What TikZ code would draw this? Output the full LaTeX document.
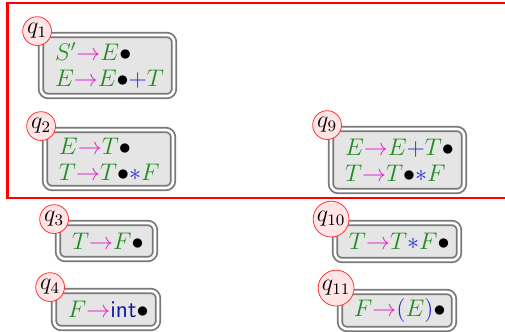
\documentclass[tikz,border=0pt]{standalone}
\usepackage{xcolor}
\definecolor{ntgreen}{RGB}{36,140,36}
\definecolor{arrmag}{RGB}{228,40,200}
\definecolor{tokblue}{RGB}{40,40,215}
\definecolor{intblue}{RGB}{20,20,160}
% grammar symbols
\newcommand{\gs}[1]{\textcolor{ntgreen}{#1}}
\newcommand{\arr}{\textcolor{arrmag}{\rightarrow}}
\newcommand{\tk}[1]{\textcolor{tokblue}{#1}}
\newcommand{\dt}{{\bullet}}
\begin{document}
\begin{tikzpicture}[x=0.5pt,y=-0.5pt,
  itembox/.style={draw=gray!95!black, line width=0.9pt, double=white,
    double distance=1.3pt, fill=gray!20, rounded corners=3.5pt,
    inner xsep=7pt, inner ysep=2pt, align=left,
    font=\fontsize{12pt}{13pt}\selectfont},
  qlabel/.style={circle, draw=red!80, line width=0.4pt, fill=red!10,
    inner sep=0.7pt, text=black, font=\fontsize{12pt}{13pt}\selectfont},
  region/.style={draw=red, line width=1pt}]
\useasboundingbox (0,0) rectangle (505,332);
\clip (0,0) rectangle (505,332);

% item sets
\node[itembox, text width=52.5pt, minimum height=30.5pt] (s1) at (107.5,65.5)
  {$\gs{S'}\arr\gs{E}\dt$\\ $\gs{E}\arr\gs{E}\dt\tk{+}\gs{T}$};
\node[itembox, text width=50pt, minimum height=29pt] (s2) at (109,159)
  {$\gs{E}\arr\gs{T}\dt$\\ $\gs{T}\arr\gs{T}\dt\tk{*}\gs{F}$};
\node[itembox, text width=52.5pt, minimum height=31pt] (s9) at (397.5,160)
  {$\gs{E}\arr\gs{E}\tk{+}\gs{T}\dt$\\ $\gs{T}\arr\gs{T}\dt\tk{*}\gs{F}$};
\node[itembox, text width=34.5pt, minimum height=18pt] (s3) at (106.5,241)
  {$\gs{T}\arr\gs{F}\dt$};
\node[itembox, text width=38pt, minimum height=18.5pt] (s4) at (106,309.5)
  {$\gs{F}\arr\textcolor{intblue}{\textsf{int}}\dt$};
\node[itembox, text width=48pt, minimum height=18.5pt] (s10) at (397,241.5)
  {$\gs{T}\arr\gs{T}\tk{*}\gs{F}\dt$};
\node[itembox, text width=43pt, minimum height=18.5pt] (s11) at (397,310.5)
  {$\gs{F}\arr\tk{(}\gs{E}\tk{)}\dt$};

% state labels
\node[qlabel] (q1) at ([shift={(-3,-3)}]s1.north west) {$q_1$};
\node[qlabel] (q2) at ([shift={(-3,-3)}]s2.north west) {$q_2$};
\node[qlabel] (q9) at ([shift={(-3,-3)}]s9.north west) {$q_9$};
\node[qlabel] (q3) at ([shift={(-3,-3)}]s3.north west) {$q_3$};
\node[qlabel] (q4) at ([shift={(-3,-3)}]s4.north west) {$q_4$};
\node[qlabel] (q10) at ([shift={(-3,-3)}]s10.north west) {$q_{10}$};
\node[qlabel] (q11) at ([shift={(-3,-3)}]s11.north west) {$q_{11}$};

% highlighted group
\coordinate (r1) at (7.5,3.5);
\coordinate (r2) at (530,198.5);
\draw[region] (r1) rectangle (r2);
\end{tikzpicture}
\end{document}
